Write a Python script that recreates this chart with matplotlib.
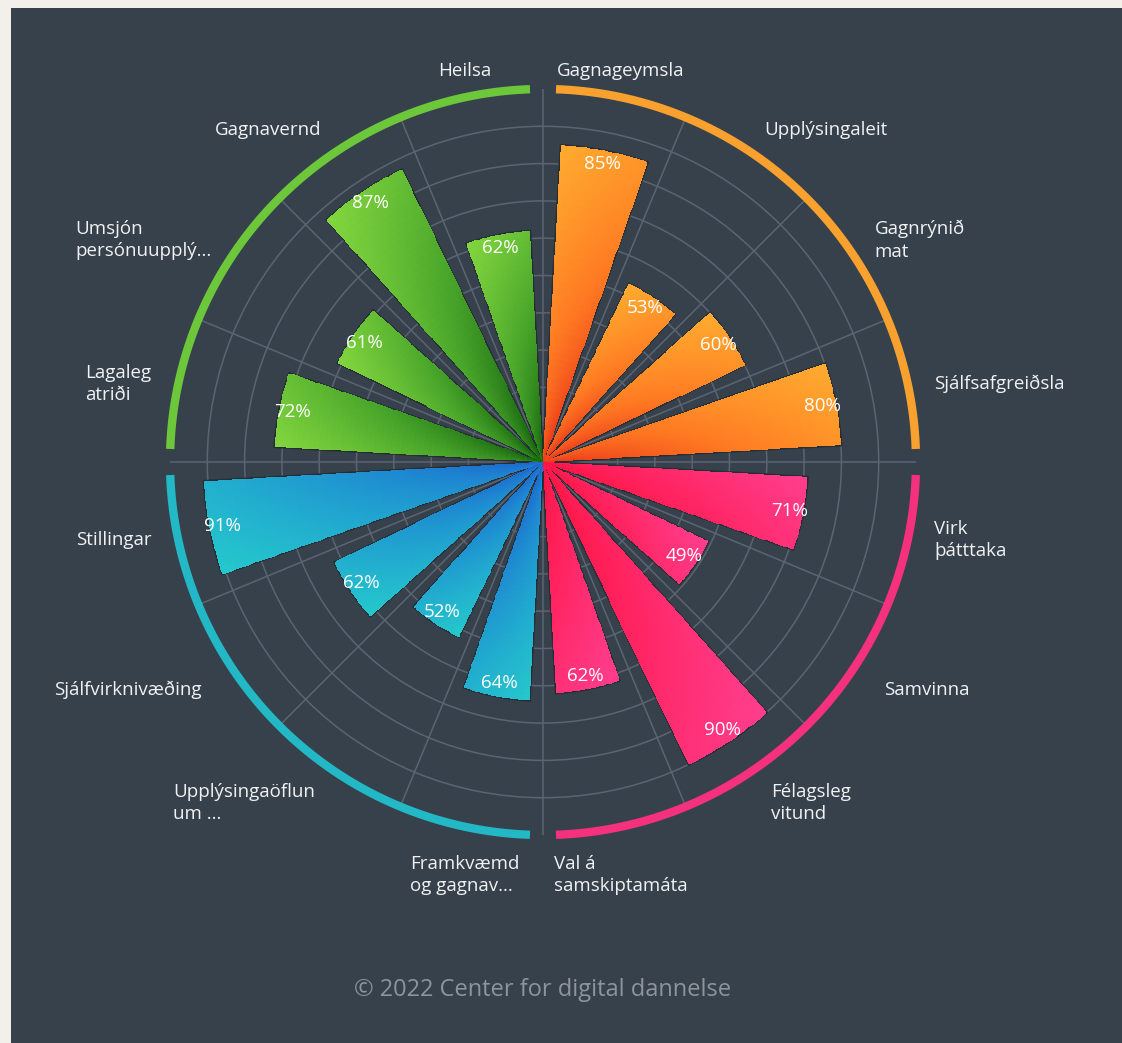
import numpy as np
import matplotlib.pyplot as plt
from matplotlib.colors import LinearSegmentedColormap
from matplotlib.patches import Rectangle

# data, clockwise from the top
categories = ['Gagnageymsla', 'Upplýsingaleit', 'Gagnrýnið\nmat', 'Sjálfsafgreiðsla',
              'Virk\nþátttaka', 'Samvinna', 'Félagsleg\nvitund', 'Val á\nsamskiptamáta',
              'Framkvæmd\nog gagnav...', 'Upplýsingaöflun\num ...', 'Sjálfvirknivæðing', 'Stillingar',
              'Lagaleg\natriði', 'Umsjón\npersónuupplý...', 'Gagnavernd', 'Heilsa']
values = [85, 53, 60, 80, 71, 49, 90, 62, 64, 52, 62, 91, 72, 61, 87, 62]
group_of = [0, 0, 0, 0, 1, 1, 1, 1, 2, 2, 2, 2, 3, 3, 3, 3]

ring_colors = ['#f9a12e', '#f5307c', '#22b8c6', '#6cc83a']
grad_colors = [['#ec3a1a', '#ff7b22', '#ffab30'],
               ['#ff1442', '#ff2563', '#ff3e8d'],
               ['#1c68cf', '#1f98d0', '#25c8cc'],
               ['#17660f', '#48a52a', '#82d63e']]
cmaps = [LinearSegmentedColormap.from_list('g%d' % i, c) for i, c in enumerate(grad_colors)]

bg = '#37414b'
grid_col = '#5b6470'
txt_col = '#f0f1f3'

plt.rcParams['font.family'] = ['Open Sans', 'DejaVu Sans']

fig = plt.figure(figsize=(11.22, 10.43), dpi=100, facecolor='#f3efeb')
fig.patches.append(Rectangle((11 / 1122, 0), 1, 1 - 8 / 1043, transform=fig.transFigure,
                             facecolor=bg, edgecolor='none', zorder=-10))

ax = fig.add_axes([170 / 1122, 208 / 1043, 746 / 1122, 746 / 1043], projection='polar', zorder=2)
ax.set_facecolor('none')
ax.set_theta_zero_location('N')
ax.set_theta_direction(-1)
ax.set_ylim(0, 1.0)

n = len(values)
step = 2 * np.pi / n
centers = np.arange(n) * step + step / 2
bar_w = step * 0.71

# grid
ax.set_xticks(np.arange(n) * step)
ax.set_yticks(np.arange(1, 10) / 10)
ax.set_xticklabels([])
ax.set_yticklabels([])
ax.grid(True, color=grid_col, linewidth=1.1)
ax.spines['polar'].set_visible(False)
ax.tick_params(length=0)

# gradient bars
for i, (c, v) in enumerate(zip(centers, values)):
    r_top = v / 100
    th = np.linspace(c - bar_w / 2, c + bar_w / 2, 25)
    rr = np.linspace(0, r_top, 50)
    T, R = np.meshgrid(th, rr)
    tc = (T[:-1, :-1] + T[1:, 1:]) / 2
    rc = (R[:-1, :-1] + R[1:, 1:]) / 2
    frac_a = (tc - (c - bar_w / 2)) / bar_w
    C = np.clip(0.8 * (rc / r_top) ** 0.9 + 0.25 * (1 - frac_a) - 0.05, 0, 1)
    ax.bar(c, r_top, width=bar_w, color='none', edgecolor='#262d34', linewidth=2.0, zorder=2)
    ax.pcolormesh(T, R, C, cmap=cmaps[group_of[i]], vmin=0, vmax=1,
                  shading='flat', linewidth=0, antialiased=False, zorder=3)
    ax.text(c, r_top - 0.035, '%d%%' % v, color='white', fontsize=13.5,
            fontweight='medium', ha='center', va='center', zorder=5)

# coloured ring per group
for g in range(4):
    th = np.linspace(g * np.pi / 2 + np.radians(2), (g + 1) * np.pi / 2 - np.radians(2), 100)
    ax.plot(th, np.ones_like(th), color=ring_colors[g], linewidth=6,
            solid_capstyle='butt', clip_on=False, zorder=4)

# category labels
for c, lab in zip(centers, categories):
    deg = np.degrees(c)
    r_lab = 1.07
    if deg < 20 or deg > 340:
        ha, va = 'center', 'center'
    elif 160 < deg < 200:
        ha, va = 'center', 'top'
        r_lab = 1.075
    elif deg < 180:
        ha, va = 'left', 'center'
    else:
        ha, va = 'right', 'center'
    if 110 < deg < 160 or 200 < deg < 250:
        r_lab = 1.10
    ax.text(c, r_lab, lab, color=txt_col, fontsize=13.5, ha=ha, va=va,
            multialignment='left', linespacing=1.3, clip_on=False)

fig.text(543 / 1122, 1 - 990 / 1043, '© 2022 Center for digital dannelse',
         color='#8c949c', fontsize=17, ha='center', va='center')

plt.savefig('out.png', dpi=100, facecolor=fig.get_facecolor())
